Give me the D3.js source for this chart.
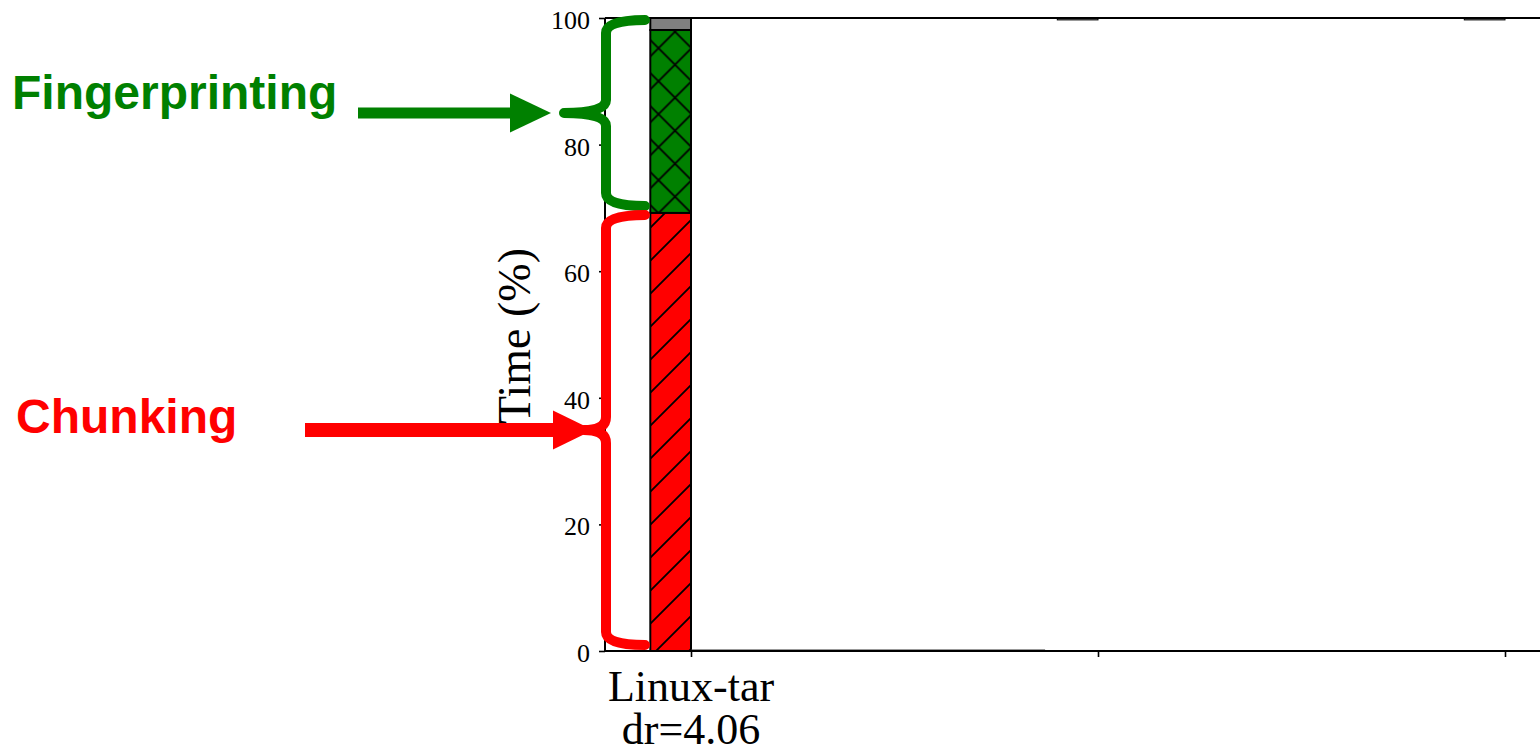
<!DOCTYPE html>
<html>
<head>
<meta charset="utf-8">
<script src="https://cdn.jsdelivr.net/npm/d3@7"></script>
<style>
  body { margin: 0; background: #fff; }
  .tick text { font-family: "Liberation Serif", "DejaVu Serif", serif; fill: #000; }
  .annot { font-family: "Liberation Sans", Arial, sans-serif; font-weight: bold; }
</style>
</head>
<body>
<div class="container"></div>
<script>
(function(){

// chart data (percent of total time per bar)
var categories = ["Linux-tar", "", ""];
var dedupRatios = ["4.06", null, null];
var chunkingPct = [69.2, null, null];
var fingerprintPct = [28.9, null, null];
var otherPct = [1.9, 0.3, 0.3];
var yTicks = [0, 20, 40, 60, 80, 100];

var width = 1540,
    height = 750,
    axisX = 605,
    barWidth = 0.1;

var yScale = d3.scaleLinear()
  .domain([0, 100])
  .range([651, 18]);

var xScale = d3.scaleLinear()
  .domain([0, 1])
  .range([691, 1098]);

var svg = d3.select(".container")
  .append("svg")
  .attr("width", width)
  .attr("height", height);

var defs = svg.append("defs");

// hatch patterns, '/' for chunking and 'x' for fingerprinting
defs.append("pattern")
  .attr("id", "hatchSlash")
  .attr("patternUnits", "userSpaceOnUse")
  .attr("x", 0).attr("y", 20)
  .attr("width", 33).attr("height", 33)
  .call(function(p){
    p.append("rect").attr("width", 33).attr("height", 33).attr("fill", "#ff0000");
    p.append("path")
      .attr("d", "M-5,38L38,-5M-5,5L5,-5M28,38L38,28")
      .attr("stroke", "#000").attr("stroke-width", 1.8);
  });

defs.append("pattern")
  .attr("id", "hatchCross")
  .attr("patternUnits", "userSpaceOnUse")
  .attr("x", 658.5).attr("y", 15.2)
  .attr("width", 33).attr("height", 33)
  .call(function(p){
    p.append("rect").attr("width", 33).attr("height", 33).attr("fill", "#008000");
    p.append("path")
      .attr("d", "M-5,-5L38,38M-5,38L38,-5M-5,28L5,38M28,-5L38,5M-5,5L5,-5M28,38L38,28")
      .attr("stroke", "#000").attr("stroke-width", 1.8);
  });

// build stacked segments from the top (100%) downward
var series = [
  {key: "other", values: otherPct, fill: "#808080"},
  {key: "fingerprint", values: fingerprintPct, fill: "url(#hatchCross)"},
  {key: "chunking", values: chunkingPct, fill: "url(#hatchSlash)"}
];

var segments = [];
categories.forEach(function(c, i){
  var top = 100;
  series.forEach(function(s){
    var v = s.values[i];
    if (v == null) return;
    segments.push({i: i, key: s.key, y1: top, y0: top - v, fill: s.fill});
    top -= v;
  });
});

svg.selectAll(".seg")
  .data(segments)
  .enter()
  .append("rect")
  .attr("class", function(d){ return "seg " + d.key; })
  .attr("x", function(d){ return xScale(d.i - barWidth); })
  .attr("width", function(d){ return xScale(d.i) - xScale(d.i - barWidth); })
  .attr("y", function(d){ return yScale(d.y1); })
  .attr("height", function(d){ return yScale(d.y0) - yScale(d.y1); })
  .attr("fill", function(d){ return d.fill; })
  .attr("stroke", "#000")
  .attr("stroke-width", function(d){ return d.i == 0 ? 2 : 1; });

// faint base line left over from hidden bars
svg.append("line")
  .attr("x1", xScale(0)).attr("x2", xScale(0.87))
  .attr("y1", yScale(0) - 1).attr("y2", yScale(0) - 1)
  .attr("stroke", "#333").attr("stroke-width", 1.2);

// y axis
var yAxis = d3.axisLeft(yScale)
  .tickValues(yTicks)
  .tickSize(6)
  .tickSizeOuter(0)
  .tickPadding(9);

var yG = svg.append("g")
  .attr("transform", "translate(" + axisX + ",0)")
  .call(yAxis);
yG.select(".domain").remove();
yG.selectAll(".tick line").attr("stroke", "#000").attr("stroke-width", 1.6);
yG.selectAll(".tick text")
  .style("font-size", "26px")
  .attr("dy", "0.4em");

// x axis ticks
var xAxis = d3.axisBottom(xScale)
  .tickValues(d3.range(categories.length))
  .tickSize(6)
  .tickSizeOuter(0)
  .tickFormat("");

var xG = svg.append("g")
  .attr("transform", "translate(0," + yScale(0) + ")")
  .call(xAxis);
xG.select(".domain").remove();
xG.selectAll(".tick line").attr("stroke", "#000").attr("stroke-width", 1.6);

// two-line category labels
var labels = svg.selectAll(".catLabel")
  .data(categories)
  .enter()
  .append("text")
  .attr("class", "catLabel")
  .attr("text-anchor", "middle")
  .style("font-family", "'Liberation Serif', 'DejaVu Serif', serif")
  .style("font-size", "44px")
  .attr("fill", "#000");

labels.append("tspan")
  .attr("x", function(d, i){ return xScale(i); })
  .attr("y", 701)
  .text(function(d){ return d; });

labels.append("tspan")
  .attr("x", function(d, i){ return xScale(i); })
  .attr("y", 744)
  .text(function(d, i){ return dedupRatios[i] ? "dr=" + dedupRatios[i] : ""; });

// spines
svg.append("line")
  .attr("x1", axisX).attr("x2", width)
  .attr("y1", yScale(100)).attr("y2", yScale(100))
  .attr("stroke", "#000").attr("stroke-width", 2);
svg.append("line")
  .attr("x1", axisX).attr("x2", width)
  .attr("y1", yScale(0)).attr("y2", yScale(0))
  .attr("stroke", "#000").attr("stroke-width", 2);
svg.append("line")
  .attr("x1", axisX).attr("x2", axisX)
  .attr("y1", yScale(100)).attr("y2", yScale(0))
  .attr("stroke", "#000").attr("stroke-width", 2);

// y axis label
svg.append("text")
  .attr("transform", "translate(530," + 336 + ") rotate(-90)")
  .attr("text-anchor", "middle")
  .style("font-family", "'Liberation Serif', 'DejaVu Serif', serif")
  .style("font-size", "46px")
  .attr("fill", "#000")
  .text("Time (%)");

// braces and arrows
function bracePath(xv, y0, y1, xt, xe, r){
  var yc = (y0 + y1) / 2;
  return "M" + xe + "," + y0 +
    "Q" + xv + "," + y0 + " " + xv + "," + (y0 + r) +
    "L" + xv + "," + (yc - r) +
    "Q" + xv + "," + yc + " " + xt + "," + yc +
    "Q" + xv + "," + yc + " " + xv + "," + (yc + r) +
    "L" + xv + "," + (y1 - r) +
    "Q" + xv + "," + y1 + " " + xe + "," + y1;
};

function annotate(color, text, textX, textY, fontSize, y0, y1, tipX, shaftX0, headX0, headX1, shaftW, headH){
  var yc = (y0 + y1) / 2;
  svg.append("path")
    .attr("d", bracePath(606, y0, y1, tipX, 645, 13))
    .attr("fill", "none")
    .attr("stroke", color)
    .attr("stroke-width", 10)
    .attr("stroke-linecap", "round")
    .attr("stroke-linejoin", "round");
  svg.append("line")
    .attr("x1", shaftX0).attr("x2", headX0 + 4)
    .attr("y1", yc).attr("y2", yc)
    .attr("stroke", color)
    .attr("stroke-width", shaftW);
  svg.append("path")
    .attr("d", "M" + headX0 + "," + (yc - headH / 2) + "L" + headX1 + "," + yc +
      "L" + headX0 + "," + (yc + headH / 2) + "Z")
    .attr("fill", color);
  svg.append("text")
    .attr("class", "annot")
    .attr("x", textX).attr("y", textY)
    .style("font-size", fontSize + "px")
    .attr("fill", color)
    .text(text);
};

annotate("#008000", "Fingerprinting", 12, 109, 48,
  yScale(100) + 2, yScale(69.2) - 7, 564, 358, 510, 551, 11, 39);
annotate("#ff0000", "Chunking", 16, 433, 48,
  yScale(69.2) + 2, yScale(0) - 6, 584, 305, 553, 593, 14, 39);

})();
</script>
</body>
</html>
